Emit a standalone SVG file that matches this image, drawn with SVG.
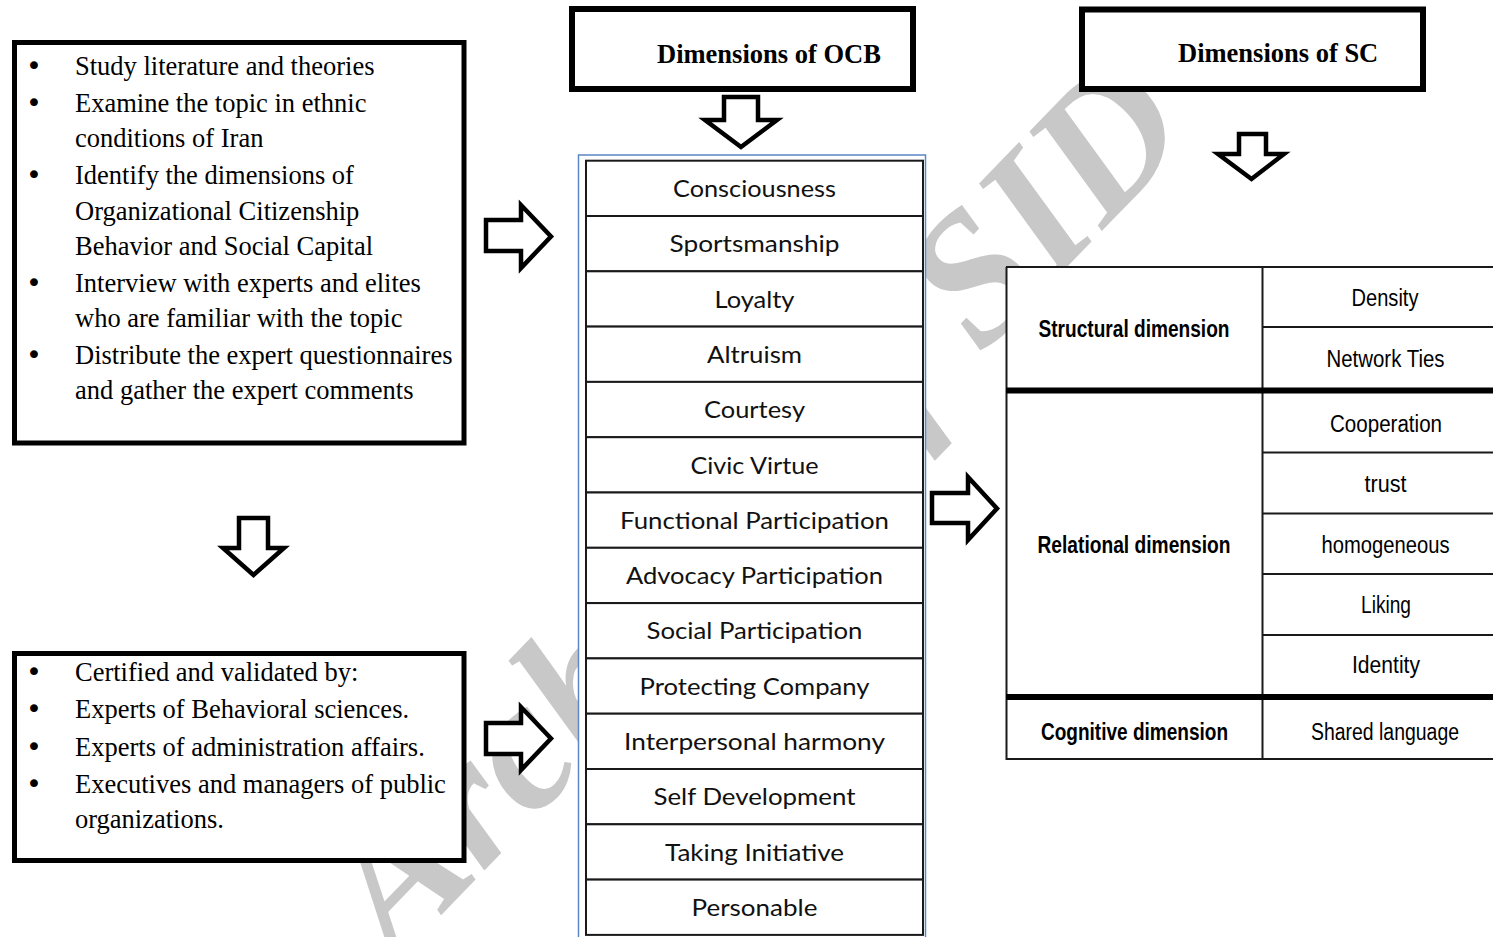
<svg xmlns="http://www.w3.org/2000/svg" width="1493" height="937" viewBox="0 0 1493 937">
<style>
.box{fill:#fff;stroke:#000;stroke-width:5}
.hdr{fill:#fff;stroke:#000;stroke-width:6}
.arrow{fill:#fff;stroke:#000;stroke-width:4.5;stroke-linejoin:miter}
.ser{font-family:"Liberation Serif","Times New Roman",serif;font-size:26.5px;fill:#000}
.bul{font-family:"DejaVu Sans",sans-serif;font-size:27px;fill:#000}
.hd{font-family:"Liberation Serif","Times New Roman",serif;font-size:26.5px;font-weight:bold;fill:#000}
.row{fill:#fff;stroke:#1a1a1a;stroke-width:2}
.ocb{font-family:Lato,"Liberation Sans",sans-serif;font-size:24px;fill:#111;text-anchor:middle}
.sc{font-family:"Liberation Sans",Arial,sans-serif;font-size:23px;fill:#000;text-anchor:middle}
.scb{font-family:"Liberation Sans",Arial,sans-serif;font-size:23px;font-weight:bold;fill:#000;text-anchor:middle}
.thin{stroke:#1a1a1a;stroke-width:2}
.thick{stroke:#000;stroke-width:6}
.wm{font-family:"Liberation Serif","Times New Roman",serif;font-size:185px;font-weight:bold;font-style:italic;fill:#c8c8c8}
</style>
<rect width="1493" height="937" fill="#fff"/>
<g id="watermark">
<text class="wm" transform="translate(396,962) rotate(-46)">Archive of SID</text>
</g>
<g id="steps-box">
<rect class="box" x="14.5" y="42.5" width="449.5" height="400.5"/>
<text class="bul" x="26" y="75">•</text>
<text class="ser" x="75" y="75">Study literature and theories</text>
<text class="bul" x="26" y="112">•</text>
<text class="ser" x="75" y="112">Examine the topic in ethnic</text>
<text class="ser" x="75" y="147">conditions of Iran</text>
<text class="bul" x="26" y="184">•</text>
<text class="ser" x="75" y="184">Identify the dimensions of</text>
<text class="ser" x="75" y="220">Organizational Citizenship</text>
<text class="ser" x="75" y="255">Behavior and Social Capital</text>
<text class="bul" x="26" y="292">•</text>
<text class="ser" x="75" y="292">Interview with experts and elites</text>
<text class="ser" x="75" y="327">who are familiar with the topic</text>
<text class="bul" x="26" y="364">•</text>
<text class="ser" x="75" y="364">Distribute the expert questionnaires</text>
<text class="ser" x="75" y="399">and gather the expert comments</text>
</g>
<g id="validation-box">
<rect class="box" x="14.5" y="653.5" width="449.5" height="207"/>
<text class="bul" x="26" y="681">•</text>
<text class="ser" x="75" y="681">Certified and validated by:</text>
<text class="bul" x="26" y="718">•</text>
<text class="ser" x="75" y="718">Experts of Behavioral sciences.</text>
<text class="bul" x="26" y="756">•</text>
<text class="ser" x="75" y="756">Experts of administration affairs.</text>
<text class="bul" x="26" y="793">•</text>
<text class="ser" x="75" y="793">Executives and managers of public</text>
<text class="ser" x="75" y="828">organizations.</text>
</g>
<g id="ocb-header">
<rect class="hdr" x="572" y="9" width="341" height="80"/>
<text class="hd" x="657" y="63">Dimensions of OCB</text>
</g>
<g id="sc-header">
<rect class="hdr" x="1082" y="9.5" width="341" height="79.5"/>
<text class="hd" x="1178" y="62">Dimensions of SC</text>
</g>
<g id="connectors">
<path class="arrow" d="M486,220 H521 V205 L551,236.5 L521,268 V251 H486 Z"/>
<path class="arrow" d="M486,723 H521 V707 L551,738.5 L521,770 V754 H486 Z"/>
<path class="arrow" d="M932,493 H968 V477 L997,508.5 L968,540 V523 H932 Z"/>
<path class="arrow" d="M724,97 H758 V120 H777 L741,147 L705,120 H724 Z"/>
<path class="arrow" d="M1239,134 H1266 V154 H1284 L1251.5,179 L1218,154 H1239 Z"/>
<path class="arrow" d="M239,518 H268 V548 H284 L253.5,575 L223,548 H239 Z"/>
</g>
<g id="ocb-table">
<rect x="578.5" y="155" width="347" height="800" fill="#fff" stroke="#5b87c5" stroke-width="1.5"/>
<g id="ocb-1"><rect class="row" x="586" y="160.7" width="337" height="55.3"/><text class="ocb" x="754.5" y="197" textLength="163" lengthAdjust="spacingAndGlyphs">Consciousness</text></g>
<g id="ocb-2"><rect class="row" x="586" y="216" width="337" height="55.3"/><text class="ocb" x="754.5" y="252.3" textLength="170" lengthAdjust="spacingAndGlyphs">Sportsmanship</text></g>
<g id="ocb-3"><rect class="row" x="586" y="271.3" width="337" height="55.3"/><text class="ocb" x="754.5" y="307.6" textLength="80" lengthAdjust="spacingAndGlyphs">Loyalty</text></g>
<g id="ocb-4"><rect class="row" x="586" y="326.6" width="337" height="55.3"/><text class="ocb" x="754.5" y="362.9" textLength="95" lengthAdjust="spacingAndGlyphs">Altruism</text></g>
<g id="ocb-5"><rect class="row" x="586" y="381.9" width="337" height="55.3"/><text class="ocb" x="754.5" y="418.2" textLength="101" lengthAdjust="spacingAndGlyphs">Courtesy</text></g>
<g id="ocb-6"><rect class="row" x="586" y="437.2" width="337" height="55.3"/><text class="ocb" x="754.5" y="473.5" textLength="128" lengthAdjust="spacingAndGlyphs">Civic Virtue</text></g>
<g id="ocb-7"><rect class="row" x="586" y="492.5" width="337" height="55.3"/><text class="ocb" x="754.5" y="528.8" textLength="269" lengthAdjust="spacingAndGlyphs">Functional Participation</text></g>
<g id="ocb-8"><rect class="row" x="586" y="547.8" width="337" height="55.3"/><text class="ocb" x="754.5" y="584.1" textLength="257" lengthAdjust="spacingAndGlyphs">Advocacy Participation</text></g>
<g id="ocb-9"><rect class="row" x="586" y="603.1" width="337" height="55.3"/><text class="ocb" x="754.5" y="639.4" textLength="216" lengthAdjust="spacingAndGlyphs">Social Participation</text></g>
<g id="ocb-10"><rect class="row" x="586" y="658.4" width="337" height="55.3"/><text class="ocb" x="754.5" y="694.7" textLength="230" lengthAdjust="spacingAndGlyphs">Protecting Company</text></g>
<g id="ocb-11"><rect class="row" x="586" y="713.7" width="337" height="55.3"/><text class="ocb" x="754.5" y="750" textLength="261" lengthAdjust="spacingAndGlyphs">Interpersonal harmony</text></g>
<g id="ocb-12"><rect class="row" x="586" y="769" width="337" height="55.3"/><text class="ocb" x="754.5" y="805.3" textLength="202" lengthAdjust="spacingAndGlyphs">Self Development</text></g>
<g id="ocb-13"><rect class="row" x="586" y="824.3" width="337" height="55.3"/><text class="ocb" x="754.5" y="860.6" textLength="179" lengthAdjust="spacingAndGlyphs">Taking Initiative</text></g>
<g id="ocb-14"><rect class="row" x="586" y="879.6" width="337" height="55.3"/><text class="ocb" x="754.5" y="915.9" textLength="126" lengthAdjust="spacingAndGlyphs">Personable</text></g>
</g>
<g id="sc-table">
<rect x="1006.5" y="267" width="490" height="492" fill="#fff"/>
<line class="thin" x1="1006" y1="267" x2="1493" y2="267"/>
<line class="thin" x1="1006.5" y1="267" x2="1006.5" y2="760"/>
<line class="thin" x1="1262.5" y1="267" x2="1262.5" y2="760"/>
<line class="thin" x1="1262" y1="327" x2="1493" y2="327"/>
<line class="thick" x1="1006" y1="390.5" x2="1493" y2="390.5"/>
<line class="thin" x1="1262" y1="452.5" x2="1493" y2="452.5"/>
<line class="thin" x1="1262" y1="513.5" x2="1493" y2="513.5"/>
<line class="thin" x1="1262" y1="574" x2="1493" y2="574"/>
<line class="thin" x1="1262" y1="635" x2="1493" y2="635"/>
<line class="thick" x1="1006" y1="697" x2="1493" y2="697"/>
<line class="thin" x1="1006" y1="759" x2="1493" y2="759"/>
<g id="sc-structural">
<text class="scb" x="1134" y="337" textLength="191" lengthAdjust="spacingAndGlyphs">Structural dimension</text>
<text class="sc" x="1385" y="306" textLength="67" lengthAdjust="spacingAndGlyphs">Density</text>
<text class="sc" x="1385.5" y="367" textLength="118" lengthAdjust="spacingAndGlyphs">Network Ties</text>
</g>
<g id="sc-relational">
<text class="scb" x="1134" y="553" textLength="193" lengthAdjust="spacingAndGlyphs">Relational dimension</text>
<text class="sc" x="1386" y="432" textLength="112" lengthAdjust="spacingAndGlyphs">Cooperation</text>
<text class="sc" x="1385.5" y="492" textLength="42" lengthAdjust="spacingAndGlyphs">trust</text>
<text class="sc" x="1385.5" y="553" textLength="128" lengthAdjust="spacingAndGlyphs">homogeneous</text>
<text class="sc" x="1386" y="613" textLength="50" lengthAdjust="spacingAndGlyphs">Liking</text>
<text class="sc" x="1386" y="673" textLength="68" lengthAdjust="spacingAndGlyphs">Identity</text>
</g>
<g id="sc-cognitive">
<text class="scb" x="1134.5" y="740" textLength="187" lengthAdjust="spacingAndGlyphs">Cognitive dimension</text>
<text class="sc" x="1385" y="740" textLength="148" lengthAdjust="spacingAndGlyphs">Shared language</text>
</g>
</g>
</svg>
